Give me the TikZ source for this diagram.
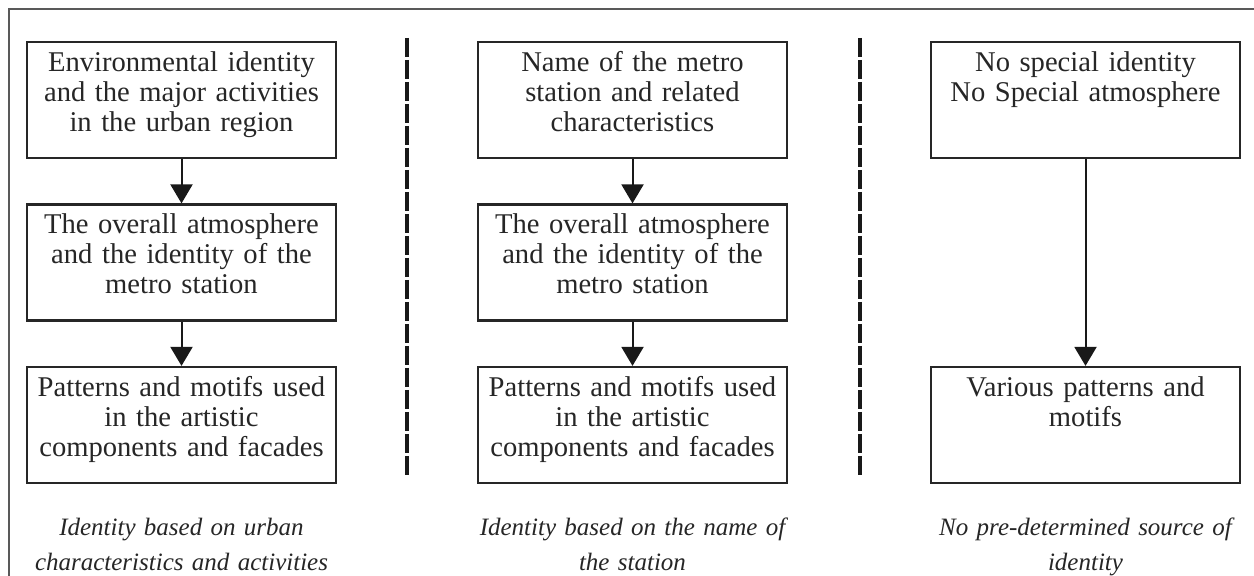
\documentclass[tikz,border=0pt]{standalone}
\usepackage{fontspec}
\setmainfont{Liberation Serif}
\usetikzlibrary{arrows.meta}
\begin{document}
\begin{tikzpicture}[x=0.5pt,y=-0.5pt,
  box/.style={draw=black!85, line width=1.1pt, minimum width=154.5pt, minimum height=58pt, inner sep=0pt},
  txt/.style={anchor=north, align=center, text width=152pt, inner sep=0pt, font=\fontsize{14.3}{15}\selectfont, text=black!85},
  captext/.style={anchor=north, align=center, text width=180pt, inner sep=0pt, font=\fontsize{12.5}{17.5}\selectfont\itshape, text=black!85},
  arr/.style={-{Triangle[width=11pt,length=9.5pt]}, line width=1pt, draw=black!90},
  divider/.style={line width=2pt, dash pattern=on 9.5pt off 1.5pt, draw=black!90},
  frameline/.style={line width=0.8pt, draw=black!65}]
\useasboundingbox (0,0) rectangle (1254,576);
\fill[white] (0,0) rectangle (1254,576);
% outer frame (open at right and bottom)
\coordinate (fb) at (9,576);
\coordinate (fc) at (9,9);
\coordinate (fr) at (1254,9);
\draw[frameline] (fb) -- (fc) -- (fr);
% dividers
\coordinate (d1t) at (407,38); \coordinate (d1b) at (407,475);
\coordinate (d2t) at (860,38); \coordinate (d2b) at (860,475);
\draw[divider] (d1t) -- (d1b);
\draw[divider] (d2t) -- (d2b);
% column 1
\node[box] (a1) at (181.5,100) {};
\node[box] (a2) at (181.5,262.5) {};
\node[box] (a3) at (181.5,425) {};
\node[txt] (ta1) at (181.5,51) {Environmental identity\\and the major activities\\in the urban region};
\node[txt] (ta2) at (181.5,213) {The overall atmosphere\\and the identity of the\\metro station};
\node[txt] (ta3) at (181.5,376) {Patterns and motifs used\\in the artistic\\components and facades};
\draw[arr] (a1.south) -- (a2.north);
\draw[arr] (a2.south) -- (a3.north);
\node[captext] (ca) at (181.5,518) {Identity based on urban\\characteristics and activities};
% column 2
\node[box] (b1) at (632.5,100) {};
\node[box] (b2) at (632.5,262.5) {};
\node[box] (b3) at (632.5,425) {};
\node[txt] (tb1) at (632.5,51) {Name of the metro\\station and related\\characteristics};
\node[txt] (tb2) at (632.5,213) {The overall atmosphere\\and the identity of the\\metro station};
\node[txt] (tb3) at (632.5,376) {Patterns and motifs used\\in the artistic\\components and facades};
\draw[arr] (b1.south) -- (b2.north);
\draw[arr] (b2.south) -- (b3.north);
\node[captext] (cb) at (632.5,518) {Identity based on the name of\\the station};
% column 3
\node[box] (c1) at (1085.5,100) {};
\node[box] (c2) at (1085.5,425) {};
\node[txt] (tc1) at (1085.5,51) {No special identity\\No Special atmosphere};
\node[txt] (tc2) at (1085.5,376) {Various patterns and\\motifs};
\draw[arr] (c1.south) -- (c2.north);
\node[captext] (cc) at (1085.5,518) {No pre-determined source of\\identity};
\end{tikzpicture}
\end{document}
